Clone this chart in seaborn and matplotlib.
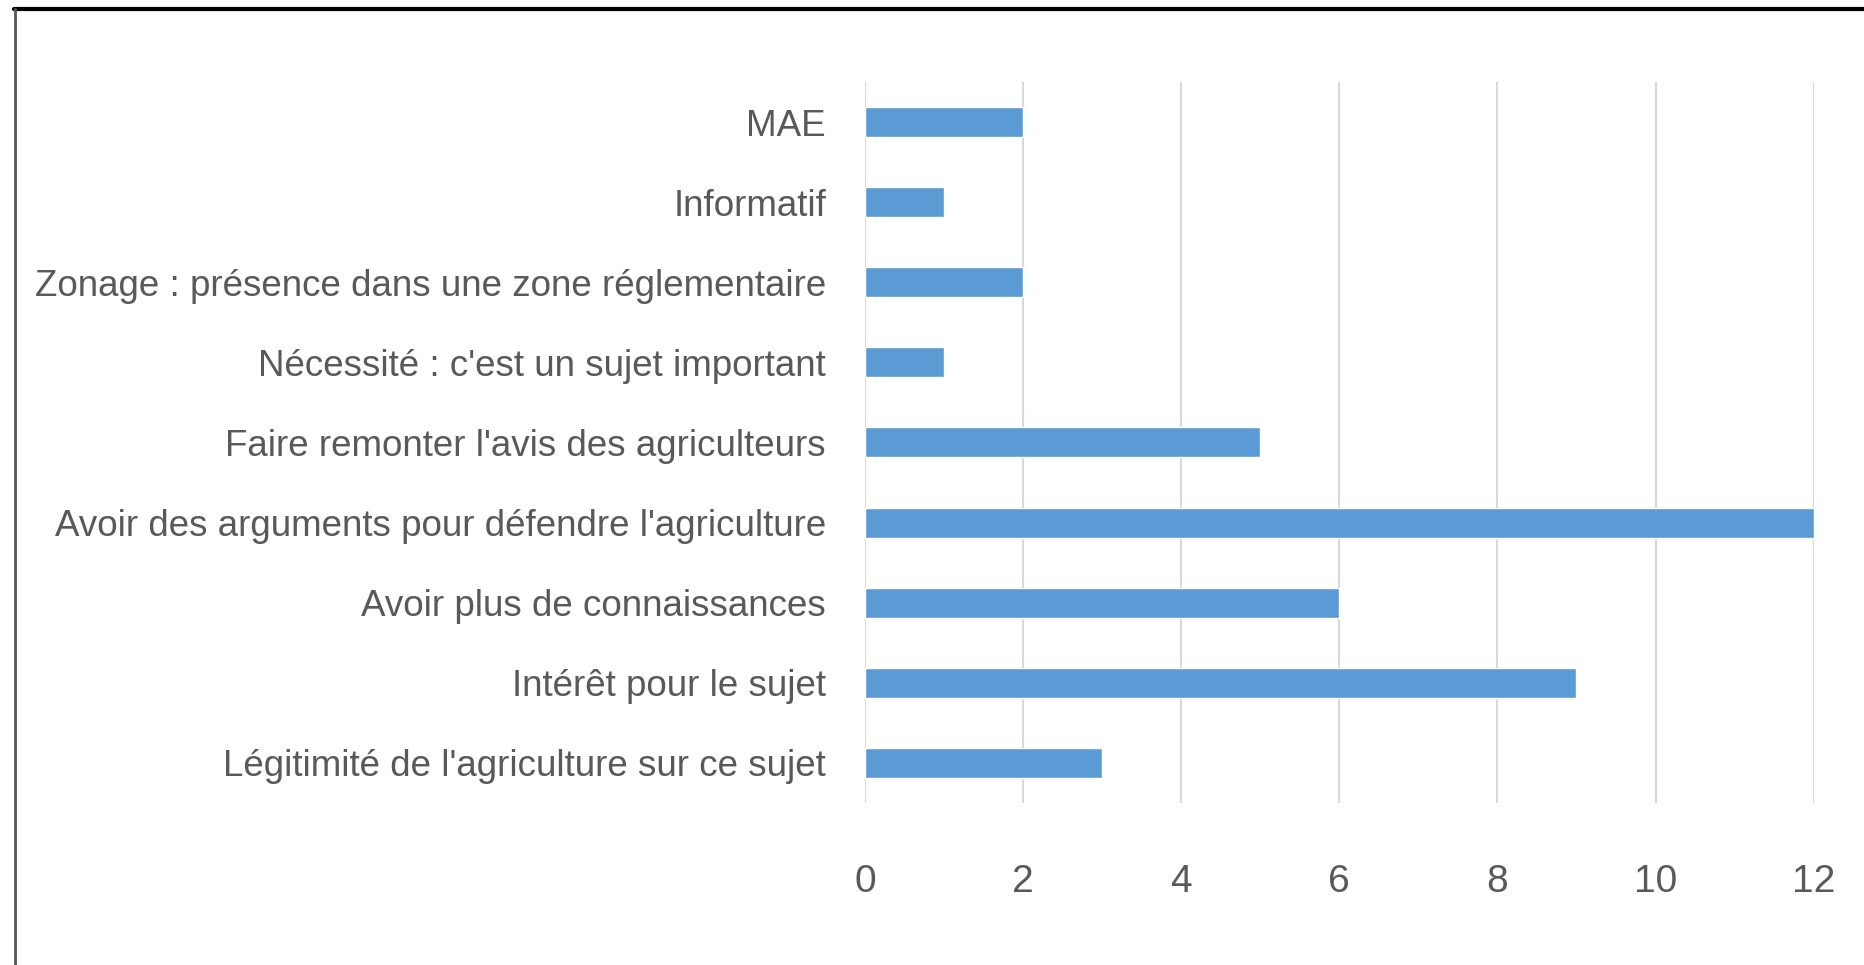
import matplotlib
matplotlib.use("Agg")
import matplotlib.pyplot as plt
import matplotlib.lines as mlines
import seaborn as sns
import pandas as pd

categories = [
    "MAE",
    "Informatif",
    "Zonage : présence dans une zone réglementaire",
    "Nécessité : c'est un sujet important",
    "Faire remonter l'avis des agriculteurs",
    "Avoir des arguments pour défendre l'agriculture",
    "Avoir plus de connaissances",
    "Intérêt pour le sujet",
    "Légitimité de l'agriculture sur ce sujet",
]
values = [2, 1, 2, 1, 5, 12, 6, 9, 3]
x_ticks = [0, 2, 4, 6, 8, 10, 12]

sns.set_theme(style="white")
plt.rcParams['font.family'] = ['Liberation Sans', 'DejaVu Sans']

df = pd.DataFrame({"motif": categories, "nb": values})

fig = plt.figure(figsize=(18.64, 9.65), dpi=100)
ax = fig.add_axes([0.464, 0.168, 0.509, 0.747])

sns.barplot(data=df, x="nb", y="motif", orient="h", color="#5B9BD5",
            saturation=1, width=0.375, ax=ax, zorder=3)

ax.set_xlim(0, 12)
ax.set_xticks(x_ticks)
ax.grid(True, axis='x', color='#D9D9D9', linewidth=1.5, zorder=0)
ax.set_axisbelow(True)
for s in ax.spines.values():
    s.set_visible(False)
ax.tick_params(axis='y', length=0, labelcolor='#595959', labelsize=26.5, pad=28)
ax.tick_params(axis='x', length=0, labelcolor='#595959', labelsize=28, pad=44)
ax.set_xlabel("")
ax.set_ylabel("")

# cadre
fig.add_artist(mlines.Line2D([14 / 1864, 1], [1 - 9 / 965, 1 - 9 / 965],
                             color='black', linewidth=3, transform=fig.transFigure))
fig.add_artist(mlines.Line2D([15 / 1864, 15 / 1864], [0, 1 - 9 / 965],
                             color='#555555', linewidth=2, transform=fig.transFigure))

fig.savefig("out.png", dpi=100)
